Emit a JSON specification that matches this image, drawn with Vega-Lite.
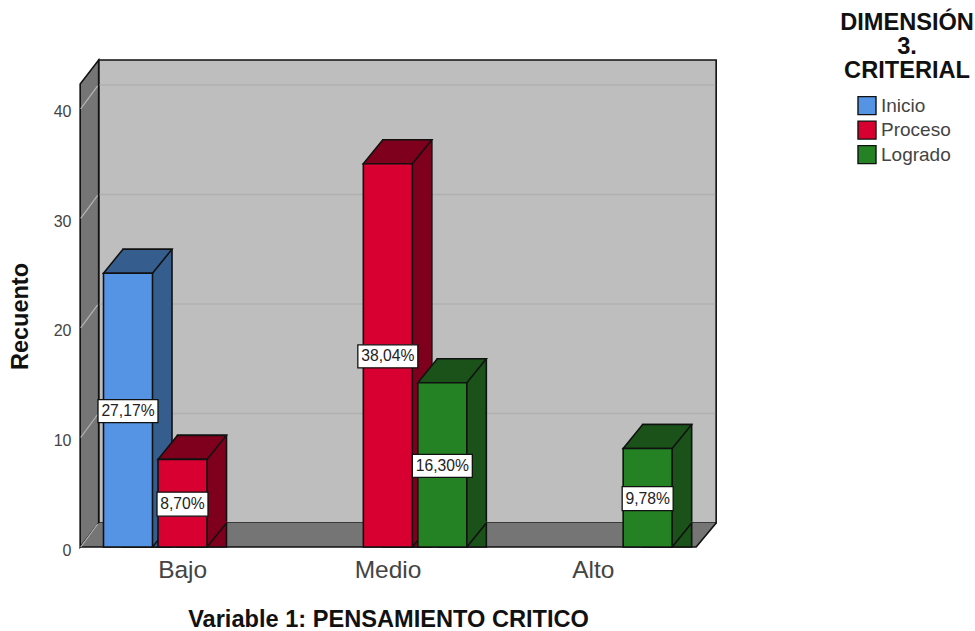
{"$schema":"https://vega.github.io/schema/vega-lite/v6.json","width":636,"height":487,"autosize":"none","padding":{"left":80,"top":60,"right":259,"bottom":84},"background":"white","view":{"stroke":null},
"config":{"font":"Liberation Sans"},
"data":{"values":[
{"group":"Bajo","series":"Inicio","value":25,"label":"27,17%"},
{"group":"Bajo","series":"Proceso","value":8,"label":"8,70%"},
{"group":"Medio","series":"Proceso","value":35,"label":"38,04%"},
{"group":"Medio","series":"Logrado","value":15,"label":"16,30%"},
{"group":"Alto","series":"Logrado","value":9,"label":"9,78%"}]},
"resolve":{"scale":{"xOffset":"independent","y":"independent"},"legend":{"color":"independent"}},
"layer":[
{"data":{"values":[{"group":"Bajo"}]},"mark":{"type":"point","size":4,"opacity":1,"fill":"#BEBEBE","stroke":"#111","strokeWidth":1.6,"shape":"M-84,-24 L-84,-487 L533.5,-487 L533.5,-24 Z"},
"encoding":{"x":{"field":"group","type":"nominal","sort":["Bajo","Medio","Alto"],"scale":{"domain":["Bajo","Medio","Alto"],"range":[0,616],"paddingInner":0,"paddingOuter":0},"axis":{"title":"Variable 1: PENSAMIENTO CRITICO","titleFontSize":23.6,"titleFontWeight":"bold","titleColor":"#111","titleX":308,"titleY":60,"labelFontSize":24.5,"labelColor":"#444","labelAngle":0,"domain":false,"ticks":false,"labelPadding":11}},
"y":{"datum":0,"type":"quantitative","scale":{"domain":[0,44.47]},"axis":{"title":"Recuento","titleFontSize":23.5,"titleFontWeight":"bold","titleColor":"#111","titleX":-48,"titleY":256,"labelFontSize":16,"labelColor":"#444","labelOffset":3,"domain":false,"ticks":false,"grid":false,"values":[0,10,20,30,40],"labelPadding":9,"format":"d"}}}},
{"data":{"values":[{"group":"Bajo"}]},"mark":{"type":"point","size":4,"opacity":1,"fill":"#757575","stroke":"#111","strokeWidth":1.6,"shape":"M-102.5,0 L-84,-24 L-84,-487 L-102.5,-463 Z"},
"encoding":{"x":{"field":"group","type":"nominal"},"y":{"datum":0,"type":"quantitative","scale":{"domain":[0,44.47]},"axis":null}}},
{"data":{"values":[{"group":"Bajo"}]},"mark":{"type":"point","size":4,"opacity":1,"fill":"#757575","strokeWidth":0,"shape":"M-102.5,0 L-84,-24 L533.5,-24 L513.5,0 Z"},
"encoding":{"x":{"field":"group","type":"nominal"},"y":{"datum":0,"type":"quantitative","scale":{"domain":[0,44.47]},"axis":null}}},
{"data":{"values":[{"group":"Bajo"}]},"mark":{"type":"point","size":4,"opacity":1,"fill":"transparent","stroke":"#111","strokeWidth":1.6,"shape":"M-102.5,0 L513.5,0 L533.5,-24"},
"encoding":{"x":{"field":"group","type":"nominal"},"y":{"datum":0,"type":"quantitative","scale":{"domain":[0,44.47]},"axis":null}}},
{"data":{"values":[{"group":"Bajo","tick":10},{"group":"Bajo","tick":20},{"group":"Bajo","tick":30},{"group":"Bajo","tick":40}]},"mark":{"type":"point","size":4,"opacity":1,"fill":"transparent","stroke":"#B0B0B0","strokeWidth":1.5,"shape":"M-83,-24 L532.5,-24"},
"encoding":{"x":{"field":"group","type":"nominal"},"y":{"field":"tick","type":"quantitative","scale":{"domain":[0,44.47]},"axis":null}}},
{"data":{"values":[{"group":"Bajo","tick":0},{"group":"Bajo","tick":10},{"group":"Bajo","tick":20},{"group":"Bajo","tick":30},{"group":"Bajo","tick":40}]},"mark":{"type":"point","size":4,"opacity":1,"fill":"transparent","stroke":"#B5B5B5","strokeWidth":1.2,"shape":"M-102,0 L-85,-23"},
"encoding":{"x":{"field":"group","type":"nominal"},"y":{"field":"tick","type":"quantitative","scale":{"domain":[0,44.47]},"axis":null}}},
{"mark":{"type":"bar","width":49,"yOffset":-24,"y2Offset":-24,"stroke":"#111","strokeWidth":1.6},
"encoding":{"x":{"field":"group","type":"nominal"},"xOffset":{"field":"series","type":"nominal","scale":{"type":"point","padding":0,"domain":["Inicio","Proceso","Logrado"],"range":[67.5,176.5]}},
"y":{"field":"value","type":"quantitative","stack":null,"scale":{"domain":[0,44.47]},"axis":null},
"fill":{"field":"series","type":"nominal","scale":{"domain":["Inicio","Proceso","Logrado"],"range":["#355E8F","#7F001C","#1A521A"]},"legend":null}}},
{"mark":{"type":"point","size":4,"opacity":1,"strokeWidth":0,"shape":"M24.5,0 L44,-24 L44,-26 L24.5,-26 Z"},
"encoding":{"x":{"field":"group","type":"nominal"},"xOffset":{"field":"series","type":"nominal","scale":{"type":"point","padding":0,"domain":["Inicio","Proceso","Logrado"],"range":[48,157]}},
"y":{"datum":0,"type":"quantitative","scale":{"domain":[0,44.47]},"axis":null},
"fill":{"field":"series","type":"nominal","legend":null}}},
{"mark":{"type":"point","size":4,"opacity":1,"fill":"transparent","stroke":"#111","strokeWidth":1.6,"shape":"M24.5,0 L44,-24"},
"encoding":{"x":{"field":"group","type":"nominal"},"xOffset":{"field":"series","type":"nominal","scale":{"type":"point","padding":0,"domain":["Inicio","Proceso","Logrado"],"range":[48,157]}},
"y":{"datum":0,"type":"quantitative","scale":{"domain":[0,44.47]},"axis":null}}},
{"mark":{"type":"point","size":4,"opacity":1,"stroke":"#111","strokeWidth":1.6,"shape":"M-24.5,0 L-5,-24 L44,-24 L24.5,0 Z"},
"encoding":{"x":{"field":"group","type":"nominal"},"xOffset":{"field":"series","type":"nominal","scale":{"type":"point","padding":0,"domain":["Inicio","Proceso","Logrado"],"range":[48,157]}},
"y":{"field":"value","type":"quantitative","scale":{"domain":[0,44.47]},"axis":null},
"fill":{"field":"series","type":"nominal","legend":null}}},
{"mark":{"type":"bar","width":49,"stroke":"#111","strokeWidth":1.6},
"encoding":{"x":{"field":"group","type":"nominal"},"xOffset":{"field":"series","type":"nominal","scale":{"type":"point","padding":0,"domain":["Inicio","Proceso","Logrado"],"range":[48,157]}},
"y":{"field":"value","type":"quantitative","stack":null,"scale":{"domain":[0,44.47]},"axis":null},
"color":{"field":"series","type":"nominal","scale":{"domain":["Inicio","Proceso","Logrado"],"range":["#5594E4","#D70030","#248224"]},
"legend":{"orient":"none","legendX":760,"legendY":-49,"title":["DIMENSIÓN","3.","CRITERIAL"],"titleFontSize":23.6,"titleFontWeight":"bold","titleColor":"#111","titleLimit":300,"titleLineHeight":24,"titleAnchor":"middle","titleAlign":"center","titlePadding":13,"symbolType":"square","symbolSize":324,"symbolOffset":-6,"symbolStrokeColor":"#111","symbolStrokeWidth":1.4,"symbolOpacity":1,"labelFontSize":19,"labelColor":"#444","labelOffset":4,"rowPadding":0.5}}}},
{"transform":[{"filter":"datum.value >= 10"}],"mark":{"type":"point","size":4,"opacity":1,"fill":"white","stroke":"#111","strokeWidth":1.3,"yOffset":1,"shape":"M-30,-11.5 L30,-11.5 L30,11.5 L-30,11.5 Z"},
"encoding":{"x":{"field":"group","type":"nominal"},"xOffset":{"field":"series","type":"nominal","scale":{"type":"point","padding":0,"domain":["Inicio","Proceso","Logrado"],"range":[48,157]}},
"y":{"field":"value","type":"quantitative","scale":{"domain":[0,88.94]},"axis":null}}},
{"transform":[{"filter":"datum.value < 10"}],"mark":{"type":"point","size":4,"opacity":1,"fill":"white","stroke":"#111","strokeWidth":1.3,"yOffset":1,"shape":"M-25.5,-12 L25.5,-12 L25.5,12 L-25.5,12 Z"},
"encoding":{"x":{"field":"group","type":"nominal"},"xOffset":{"field":"series","type":"nominal","scale":{"type":"point","padding":0,"domain":["Inicio","Proceso","Logrado"],"range":[48,157]}},
"y":{"field":"value","type":"quantitative","scale":{"domain":[0,88.94]},"axis":null}}},
{"mark":{"type":"text","fontSize":15.7,"color":"#222","align":"center","baseline":"middle","yOffset":1},
"encoding":{"x":{"field":"group","type":"nominal"},"xOffset":{"field":"series","type":"nominal","scale":{"type":"point","padding":0,"domain":["Inicio","Proceso","Logrado"],"range":[48,157]}},
"y":{"field":"value","type":"quantitative","scale":{"domain":[0,88.94]},"axis":null},"text":{"field":"label"}}}
]}
